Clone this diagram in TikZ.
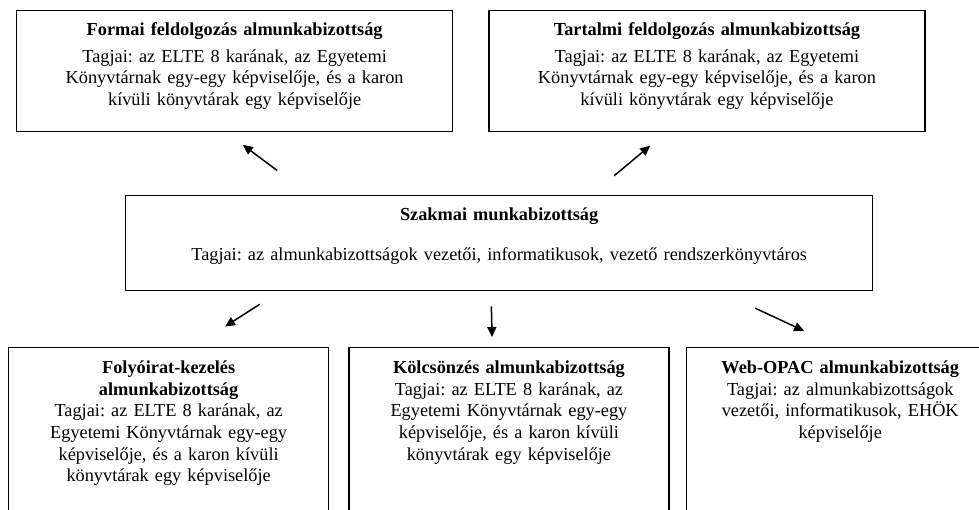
\documentclass[tikz,border=0pt]{standalone}
\usepackage{fontspec}
\setmainfont{Liberation Serif}
\usetikzlibrary{arrows.meta, positioning}
\frenchspacing
\newcommand{\bizfont}{\fontsize{18.3pt}{21.6pt}\selectfont}
\tikzset{
  bizbox/.style={draw, line width=1.3pt, align=center, inner xsep=8pt, inner ysep=0pt, font=\bizfont},
  topbox/.style={bizbox, text width=420pt, text height=25pt, text depth=96pt},
  midbox/.style={bizbox, text width=731pt, text height=25pt, text depth=70pt},
  lowbox/.style={bizbox, text width=304pt, text height=26pt, text depth=200pt},
  arr/.style={line width=1.5pt, -{Triangle[length=10pt, width=9pt]}}
}

\begin{document}
\begin{tikzpicture}[x=1pt, y=-1pt]
    \useasboundingbox (0,0) rectangle (979,509);
    \clip (0,0) rectangle (979,509);

    \node[topbox, anchor=north west] (formai) at (16,10) {\textbf{Formai feldolgozás almunkabizottság}\\[5pt]Tagjai: az ELTE 8 karának, az Egyetemi\\Könyvtárnak egy-egy képviselője, és a karon\\kívüli könyvtárak egy képviselője};
    \node[topbox, right=35pt of formai.north east, anchor=north west] (tartalmi) {\textbf{Tartalmi feldolgozás almunkabizottság}\\[5pt]Tagjai: az ELTE 8 karának, az Egyetemi\\Könyvtárnak egy-egy képviselője, és a karon\\kívüli könyvtárak egy képviselője};

    \node[midbox, anchor=north west] (szakmai) at (125,195) {\textbf{Szakmai munkabizottság}\\[18.4pt]Tagjai: az almunkabizottságok vezetői, informatikusok, vezető rendszerkönyvtáros};

    \node[lowbox, anchor=north west] (folyoirat) at (8,347) {\textbf{Folyóirat-kezelés}\\\textbf{almunkabizottság}\\Tagjai: az ELTE 8 karának, az\\Egyetemi Könyvtárnak egy-egy\\képviselője, és a karon kívüli\\könyvtárak egy képviselője};
    \node[lowbox, right=19pt of folyoirat.north east, anchor=north west] (kolcsonzes) {\textbf{Kölcsönzés almunkabizottság}\\Tagjai: az ELTE 8 karának, az\\Egyetemi Könyvtárnak egy-egy\\képviselője, és a karon kívüli\\könyvtárak egy képviselője};
    \node[lowbox, text width=292pt, right=16pt of kolcsonzes.north east, anchor=north west] (webopac) {\textbf{Web-OPAC almunkabizottság}\\Tagjai: az almunkabizottságok\\vezetői, informatikusok, EHÖK\\képviselője};

    \draw[arr, shorten <=41pt, shorten >=21pt] ([xshift=185pt]szakmai.north west) -- ([xshift=210pt]formai.south west);
    \draw[arr, shorten <=30pt, shorten >=21pt] ([xshift=466pt]szakmai.north west) -- ([xshift=178pt]tartalmi.south west);
    \draw[arr, shorten <=24pt, shorten >=38pt] ([xshift=155pt]szakmai.south west) -- ([xshift=185pt]folyoirat.north west);
    \draw[arr, shorten <=15pt, shorten >=10pt] ([xshift=366pt]szakmai.south west) -- ([xshift=144pt]kolcsonzes.north west);
    \draw[arr, shorten <=40pt, shorten >=38pt] ([xshift=594pt]szakmai.south west) -- ([xshift=153pt]webopac.north west);
\end{tikzpicture}
\end{document}
